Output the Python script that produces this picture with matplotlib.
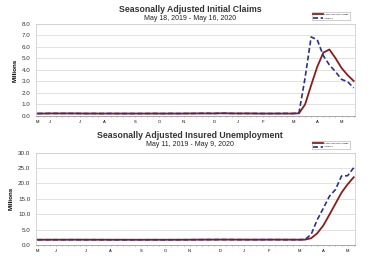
import numpy as np
import pandas as pd
import matplotlib
matplotlib.use("Agg")
import matplotlib.pyplot as plt
import matplotlib.ticker as ticker

plt.rcParams['font.family'] = ['Liberation Sans', 'DejaVu Sans']

# weekly initial claims, millions, week ending May 18 2019 .. May 16 2020
ic_start = '2019-05-18'
ic_advance = [0.21, 0.22, 0.22, 0.22, 0.22, 0.22, 0.22, 0.21, 0.21, 0.22,
              0.21, 0.21, 0.22, 0.21, 0.21, 0.21, 0.21, 0.21, 0.21, 0.22,
              0.21, 0.21, 0.22, 0.21, 0.22, 0.21, 0.22, 0.23, 0.23, 0.21,
              0.24, 0.23, 0.22, 0.21, 0.22, 0.21, 0.22, 0.21, 0.21, 0.21,
              0.22, 0.22, 0.21, 0.28, 3.31, 6.87, 6.62, 5.24, 4.44, 3.85,
              3.18, 2.98, 2.44]
ic_avg = [0.21, 0.21, 0.22, 0.22, 0.22, 0.22, 0.22, 0.22, 0.21, 0.21,
          0.21, 0.21, 0.21, 0.21, 0.21, 0.21, 0.21, 0.21, 0.21, 0.21,
          0.21, 0.21, 0.21, 0.21, 0.21, 0.22, 0.22, 0.22, 0.22, 0.22,
          0.23, 0.23, 0.22, 0.22, 0.22, 0.22, 0.21, 0.21, 0.21, 0.21,
          0.21, 0.21, 0.21, 0.23, 1.00, 2.67, 4.27, 5.50, 5.78, 5.03,
          4.17, 3.55, 3.04]

# weekly insured unemployment, millions, week ending May 11 2019 .. May 9 2020
iu_start = '2019-05-11'
iu_advance = [1.68, 1.69, 1.69, 1.70, 1.69, 1.70, 1.70, 1.69, 1.69, 1.70,
              1.69, 1.68, 1.68, 1.68, 1.67, 1.67, 1.67, 1.68, 1.68, 1.69,
              1.68, 1.67, 1.68, 1.69, 1.69, 1.70, 1.71, 1.72, 1.73, 1.72,
              1.74, 1.73, 1.72, 1.71, 1.70, 1.70, 1.71, 1.72, 1.73, 1.72,
              1.71, 1.70, 1.70, 1.70, 1.78, 3.41, 8.17, 11.90, 15.80, 18.00,
              22.40, 22.50, 25.07]
iu_avg = [1.69, 1.69, 1.69, 1.69, 1.69, 1.69, 1.70, 1.70, 1.69, 1.69,
          1.69, 1.69, 1.68, 1.68, 1.68, 1.68, 1.67, 1.67, 1.68, 1.68,
          1.68, 1.68, 1.68, 1.68, 1.69, 1.69, 1.70, 1.71, 1.72, 1.72,
          1.73, 1.73, 1.73, 1.72, 1.72, 1.71, 1.71, 1.71, 1.72, 1.72,
          1.72, 1.71, 1.71, 1.70, 1.72, 2.17, 3.78, 6.32, 9.82, 13.40,
          17.00, 19.70, 22.00]

labels = ['4-Week Moving Average', 'Advance']
red = '#8b1c1c'
blue = '#2c2f8e'

fig = plt.figure(figsize=(3.9, 2.6), dpi=100)
ax1 = fig.add_axes([0.092, 0.554, 0.818, 0.354])
ax2 = fig.add_axes([0.092, 0.058, 0.818, 0.355])


def panel(ax, start, adv, avg, ymax, ystep, title, sub, ty):
    dates = pd.date_range(start, periods=len(adv), freq='7D')
    x = np.arange(len(adv))
    ax.plot(x, avg, color=red, lw=1.3, label=labels[0], zorder=3)
    ax.plot(x, adv, color=blue, lw=1.2, ls=(0, (3, 1.6)), label=labels[1], zorder=4)
    ax.set_xlim(-0.3, len(adv) - 0.8)
    ax.set_ylim(0, ymax)
    ax.yaxis.set_major_locator(ticker.MultipleLocator(ystep))
    ax.yaxis.set_major_formatter(ticker.FormatStrFormatter('%.1f'))
    # month letters at the first week of each month
    pos = [0] + [i for i, d in enumerate(dates) if d.day <= 7 and i > 0]
    ax.set_xticks(pos)
    ax.set_xticklabels([dates[i].strftime('%b')[0] for i in pos], fontsize=3)
    ax.xaxis.set_minor_locator(ticker.MultipleLocator(1))
    ax.tick_params(axis='x', which='both', length=1, width=0.4, color='#777777', pad=2)
    ax.tick_params(axis='y', length=0, labelsize=4.5, labelcolor='#333333', pad=4)
    ax.grid(axis='y', color='#dddddd', lw=0.6)
    ax.set_axisbelow(True)
    for s in ax.spines.values():
        s.set_color('#d0d0d0')
        s.set_linewidth(0.6)
    ax.spines['bottom'].set_color('#999999')
    ax.set_ylabel('Millions', fontsize=4.5, fontweight='bold', labelpad=3)
    leg = ax.legend(loc='lower right', bbox_to_anchor=(0.987, 1.03), fontsize=1.6,
                    frameon=True, fancybox=False, handlelength=4.5, borderpad=0.6,
                    labelspacing=0.9, handletextpad=0.4, edgecolor='#bbbbbb',
                    framealpha=1)
    leg.get_frame().set_linewidth(0.5)
    fig.text(0.487, ty, title, ha='center', va='center', fontsize=6.3,
             fontweight='bold', color='#333333')
    fig.text(0.487, ty - 0.035, sub, ha='center', va='center', fontsize=5,
             color='#222222')


panel(ax1, ic_start, ic_advance, ic_avg, 8, 1, 'Seasonally Adjusted Initial Claims',
      'May 18, 2019 - May 16, 2020', 0.965)
panel(ax2, iu_start, iu_advance, iu_avg, 30, 5, 'Seasonally Adjusted Insured Unemployment',
      'May 11, 2019 - May 9, 2020', 0.478)

fig.savefig('out.png', dpi=100)
